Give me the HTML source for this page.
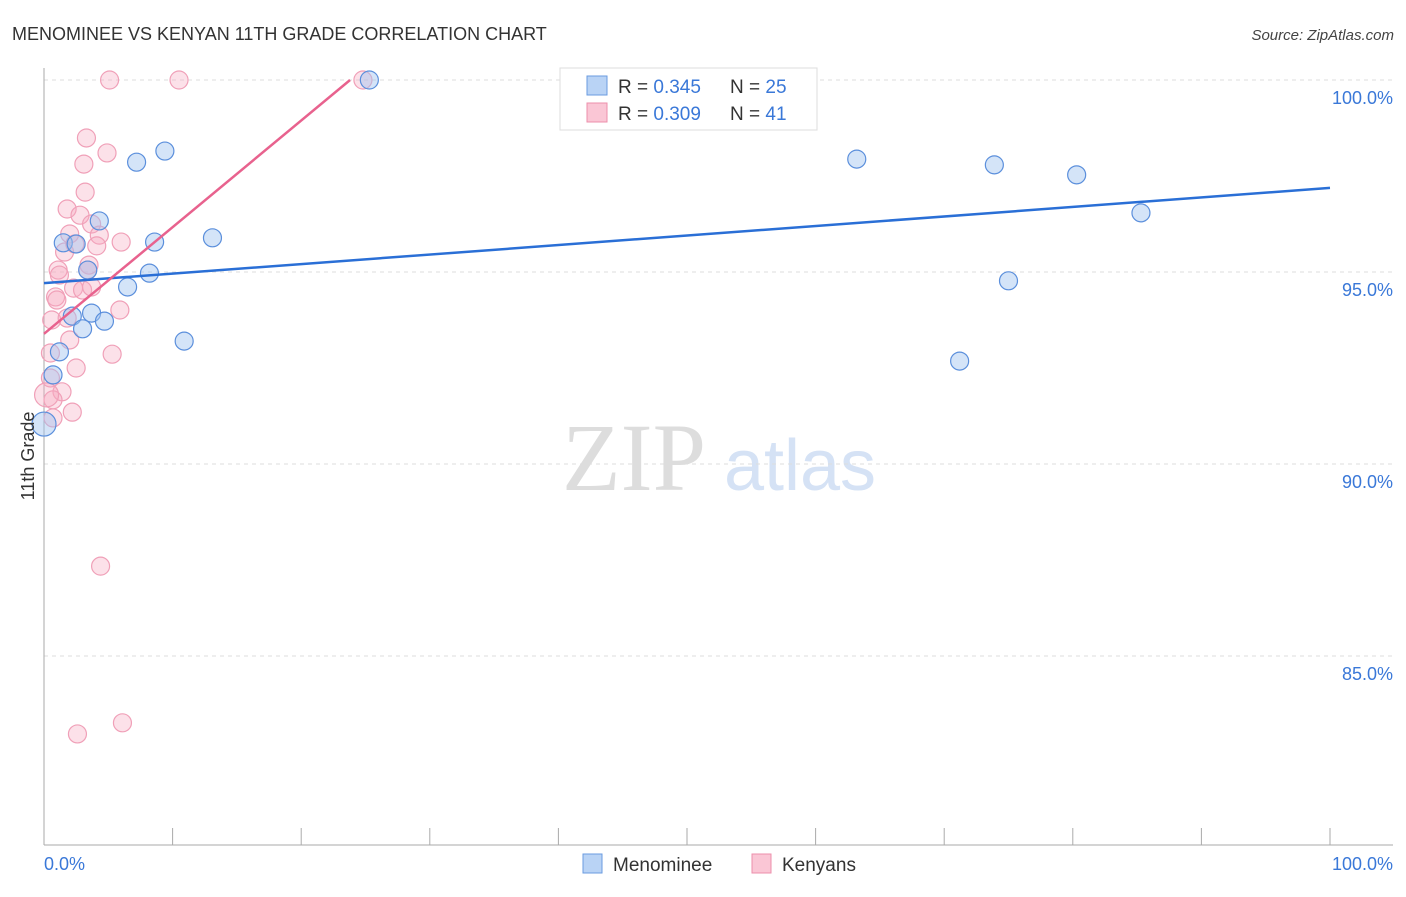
<!DOCTYPE html>
<html><head><meta charset="utf-8"><style>
body{margin:0;background:#fff;font-family:"Liberation Sans",sans-serif}
svg text{font-family:"Liberation Sans",sans-serif}
</style></head><body>
<svg width="1406" height="892">
<text x="12" y="40" font-size="18" fill="#333">MENOMINEE VS KENYAN 11TH GRADE CORRELATION CHART</text>
<text x="1394" y="40" font-size="15" fill="#444" font-style="italic" text-anchor="end">Source: ZipAtlas.com</text>
<g>
<text x="634" y="490" font-size="96" fill="#ddd" text-anchor="middle" font-family="Liberation Serif" style="font-family:'Liberation Serif',serif">ZIP</text>
<text x="800" y="490" font-size="72" fill="#d5e2f5" text-anchor="middle">atlas</text>
</g>
<g id="grid"></g>
<g id="axes"></g>
<g id="marks"></g>
<text transform="translate(34,456) rotate(-90)" font-size="18" fill="#333" text-anchor="middle">11th Grade</text>
<g>
<rect x="560" y="68" width="257" height="62" fill="#fff" stroke="#ddd"/>
<rect x="587" y="76" width="20" height="19" fill="#b9d3f5" stroke="#6a9be0"/>
<rect x="587" y="103" width="20" height="19" fill="#fac6d5" stroke="#ec8fab"/>
<text x="618" y="93" font-size="19" fill="#333">R = <tspan fill="#3a78d8">0.345</tspan><tspan x="730">N = </tspan><tspan fill="#3a78d8">25</tspan></text>
<text x="618" y="120" font-size="19" fill="#333">R = <tspan fill="#3a78d8">0.309</tspan><tspan x="730">N = </tspan><tspan fill="#3a78d8"> 41</tspan></text>
</g>
<g>
<rect x="583" y="854" width="19" height="19" fill="#b9d3f5" stroke="#6a9be0"/>
<text x="613" y="871" font-size="19" fill="#333">Menominee</text>
<rect x="752" y="854" width="19" height="19" fill="#fac6d5" stroke="#ec8fab"/>
<text x="782" y="871" font-size="19" fill="#333">Kenyans</text>
</g>
</svg>
<script>
const yTicks=[100,95,90,85];
const yTickLabels=["100.0%","95.0%","90.0%","85.0%"];
const xTickLabels=["0.0%","100.0%"];
const menX=[25.3,9.4,7.2,4.3,1.5,2.5,8.6,13.1,3.4,8.2,6.5,3.7,2.2,3.0,4.7,10.9,1.2,0.7,0,63.2,73.9,80.3,85.3,75.0,71.2];
const menY=[100,98.15,97.86,96.33,95.76,95.73,95.78,95.89,95.05,94.97,94.61,93.93,93.85,93.52,93.72,93.2,92.92,92.32,91.04,97.94,97.79,97.53,96.54,94.77,92.68];
const kenX=[5.1,10.5,24.8,3.3,4.9,3.1,3.2,1.8,2.8,3.7,2.0,4.3,6.0,4.1,1.6,3.5,1.1,1.2,2.3,3.0,3.7,0.9,1.0,0.6,1.8,5.9,2.0,5.3,0.5,2.5,0.5,1.4,0.7,2.2,0.7,4.4,2.6,6.1,0.2,2.4,3.4];
const kenY=[100,100,100,98.49,98.1,97.81,97.08,96.64,96.48,96.25,95.99,95.96,95.78,95.68,95.52,95.18,95.05,94.92,94.58,94.53,94.61,94.35,94.27,93.75,93.8,94.01,93.23,92.86,92.89,92.5,92.24,91.88,91.67,91.35,91.2,87.34,82.97,83.26,91.8,95.73,95.05];
const menTrendX=[0,100], menTrendY=[94.71,97.19];
const kenTrendX=[0,23.8], kenTrendY=[93.39,100];
const NS="http://www.w3.org/2000/svg";
const X0=44,X1=1330;
function sx(v){return X0+(v/100)*(X1-X0);}
function sy(v){return 80+(100-v)*38.4;}
function mk(tag,attrs,parent){const e=document.createElementNS(NS,tag);for(const k in attrs)e.setAttribute(k,attrs[k]);document.getElementById(parent).appendChild(e);return e;}
yTicks.forEach((t,i)=>{
 const l=mk('line',{x1:X0,x2:1393,y1:sy(t),y2:sy(t),stroke:'#ddd','stroke-dasharray':'4,4'},'grid');
 
 
 const tx=mk('text',{x:1393,y:sy(t)+24,'font-size':18,fill:'#3a78d8','text-anchor':'end'},'axes');
 tx.textContent=yTickLabels[i];
 
 
});
const ya=mk('line',{x1:X0,x2:X0,y1:68,y2:845,stroke:'#aaa'},'axes');


const xa=mk('line',{x1:X0,x2:1393,y1:845,y2:845,stroke:'#aaa'},'axes');


for(let i=0;i<=10;i++){
 const t=mk('line',{x1:sx(i*10),x2:sx(i*10),y1:828,y2:845,stroke:'#aaa'},'axes');
 
 
}
[[0,'start',44],[1,'end',1393]].forEach(([i,a,x])=>{
 const t=mk('text',{x:x,y:870,'font-size':18,fill:'#3a78d8','text-anchor':a},'axes');
 t.textContent=xTickLabels[i];
 
 
});
kenX.forEach((v,i)=>{
 const c=mk('circle',{cx:sx(v),cy:sy(kenY[i]),r:(v<0.3?12:9),fill:'rgba(246,168,192,0.35)',stroke:'#f0a0b8','stroke-width':1.2},'marks');
 
 
});
menX.forEach((v,i)=>{
 const c=mk('circle',{cx:sx(v),cy:sy(menY[i]),r:(v===0?12:9),fill:'rgba(160,196,240,0.45)',stroke:'#5b8fdc','stroke-width':1.2},'marks');
 
 
});
const tb=mk('line',{x1:sx(menTrendX[0]),y1:sy(menTrendY[0]),x2:sx(menTrendX[1]),y2:sy(menTrendY[1]),stroke:'#2a6fd6','stroke-width':2.5},'marks');


const tp=mk('line',{x1:sx(kenTrendX[0]),y1:sy(kenTrendY[0]),x2:sx(kenTrendX[1]),y2:sy(kenTrendY[1]),stroke:'#e8628e','stroke-width':2.5},'marks');


</script>
</body></html>
